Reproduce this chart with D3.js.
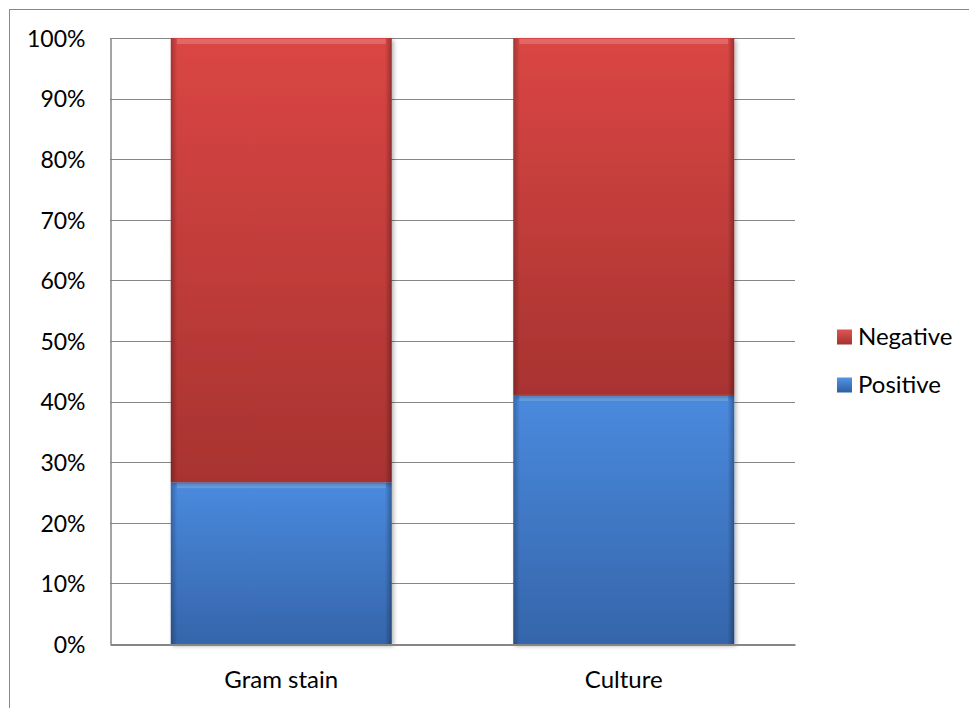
<!DOCTYPE html>
<html>
<head>
  <script src="https://cdn.jsdelivr.net/npm/d3@7"></script>
  <style>
    body, html { margin: 0; padding: 0; background: white; overflow: hidden; }
    svg text { font-family: Lato, 'Open Sans', sans-serif; fill: #000; }
  </style>
</head>
<body>
  <svg id="chart" width="969" height="708"></svg>
  <script>
    const categories = ["Gram stain", "Culture"];
    const positive = [26.7, 41.1];
    const negative = [73.3, 58.9];
    const seriesNames = ["Positive", "Negative"];
    const tickValues = [0, 10, 20, 30, 40, 50, 60, 70, 80, 90, 100];

    const svg = d3.select('#chart');
    const margin = { left: 110, top: 38, right: 174, bottom: 64 };
    const width = 969, height = 708;

    // outer chart border
    svg.append('rect')
      .attr('x', 9.5).attr('y', 9.5)
      .attr('width', 1000).attr('height', 1000)
      .attr('fill', 'white').attr('stroke', '#888').attr('stroke-width', 1);

    const defs = svg.append('defs');
    function vgrad(id, top, bottom) {
      const g = defs.append('linearGradient').attr('id', id)
        .attr('x1', 0).attr('y1', 0).attr('x2', 0).attr('y2', 1);
      g.append('stop').attr('offset', '0%').attr('stop-color', top);
      g.append('stop').attr('offset', '100%').attr('stop-color', bottom);
    }
    vgrad('gradNeg', '#da4644', '#a83331');
    vgrad('gradPos', '#4a8ade', '#3565aa');
    vgrad('legNeg', '#e05552', '#a33230');
    vgrad('legPos', '#5196e6', '#2f5e9f');

    const edge = defs.append('linearGradient').attr('id', 'edge')
      .attr('x1', 0).attr('y1', 0).attr('x2', 1).attr('y2', 0);
    edge.append('stop').attr('offset', '0%').attr('stop-color', '#000').attr('stop-opacity', 0.25);
    edge.append('stop').attr('offset', '3%').attr('stop-color', '#000').attr('stop-opacity', 0);
    edge.append('stop').attr('offset', '97%').attr('stop-color', '#000').attr('stop-opacity', 0);
    edge.append('stop').attr('offset', '100%').attr('stop-color', '#000').attr('stop-opacity', 0.3);

    const shadow = defs.append('filter').attr('id', 'shadow')
      .attr('x', '-10%').attr('y', '-10%').attr('width', '125%').attr('height', '125%');
    shadow.append('feDropShadow').attr('dx', 2).attr('dy', 2).attr('stdDeviation', 2)
      .attr('flood-color', '#000').attr('flood-opacity', 0.3);

    const x = d3.scaleBand()
      .domain(categories)
      .range([margin.left, width - margin.right])
      .paddingInner(0.355).paddingOuter(0.1775);

    const y = d3.scaleLinear()
      .domain([0, 100])
      .range([height - margin.bottom, margin.top]);

    // gridlines
    svg.append('g')
      .selectAll('line')
      .data(tickValues.filter(d => d > 0))
      .join('line')
      .attr('x1', margin.left).attr('x2', width - margin.right)
      .attr('y1', d => Math.round(y(d)) + 0.5).attr('y2', d => Math.round(y(d)) + 0.5)
      .attr('stroke', '#868686').attr('stroke-width', 1);

    // y axis
    const yAxis = svg.append('g')
      .attr('transform', `translate(${margin.left + 0.5},0)`)
      .call(d3.axisLeft(y).tickValues(tickValues).tickFormat(d => d + '%').tickSize(0).tickPadding(25));
    yAxis.select('.domain').attr('stroke', '#868686').attr('stroke-width', 1.5);
    yAxis.selectAll('text').style('font-size', '23px').attr('dy', '0.36em');

    const stackData = categories.map((c, i) => ({ cat: c, Positive: positive[i], Negative: negative[i] }));
    const stacked = d3.stack().keys(seriesNames)(stackData);
    const fills = { Positive: 'url(#gradPos)', Negative: 'url(#gradNeg)' };

    const layers = svg.append('g')
      .selectAll('g')
      .data(stacked)
      .join('g');

    layers.selectAll('rect.bar')
      .data(d => d.map(v => ({ key: d.key, v })))
      .join('rect')
      .attr('class', 'bar')
      .attr('x', d => x(d.v.data.cat))
      .attr('y', d => y(d.v[1]))
      .attr('width', x.bandwidth())
      .attr('height', d => y(d.v[0]) - y(d.v[1]))
      .attr('fill', d => fills[d.key])
      .attr('filter', 'url(#shadow)');

    // edge shading and top highlight
    layers.selectAll('rect.edge')
      .data(d => d.map(v => ({ key: d.key, v })))
      .join('rect')
      .attr('class', 'edge')
      .attr('x', d => x(d.v.data.cat))
      .attr('y', d => y(d.v[1]))
      .attr('width', x.bandwidth())
      .attr('height', d => y(d.v[0]) - y(d.v[1]))
      .attr('fill', 'url(#edge)');

    layers.selectAll('rect.hi')
      .data(d => d.map(v => ({ key: d.key, v })))
      .join('rect')
      .attr('class', 'hi')
      .attr('x', d => x(d.v.data.cat) + 6)
      .attr('y', d => y(d.v[1]) + 1)
      .attr('width', x.bandwidth() - 12)
      .attr('height', 5)
      .attr('fill', '#fff').attr('opacity', 0.18);

    // x axis
    const xAxis = svg.append('g')
      .attr('transform', `translate(0,${height - margin.bottom + 0.5})`)
      .call(d3.axisBottom(x).tickSize(0));
    xAxis.select('.domain').attr('stroke', '#868686').attr('stroke-width', 2);
    xAxis.selectAll('text').style('font-size', '24px').attr('y', 43.5).attr('dy', 0);

    // legend
    const legendItems = [
      { name: 'Negative', fill: 'url(#legNeg)', y: 337 },
      { name: 'Positive', fill: 'url(#legPos)', y: 385 }
    ];
    const legend = svg.append('g')
      .selectAll('g')
      .data(legendItems)
      .join('g')
      .attr('transform', d => `translate(837,${d.y})`);
    legend.append('rect')
      .attr('x', 0).attr('y', -7.5).attr('width', 15).attr('height', 15)
      .attr('fill', d => d.fill);
    legend.append('text')
      .attr('x', 21).attr('y', 8)
      .style('font-size', '24px')
      .text(d => d.name);
  </script>
</body>
</html>
